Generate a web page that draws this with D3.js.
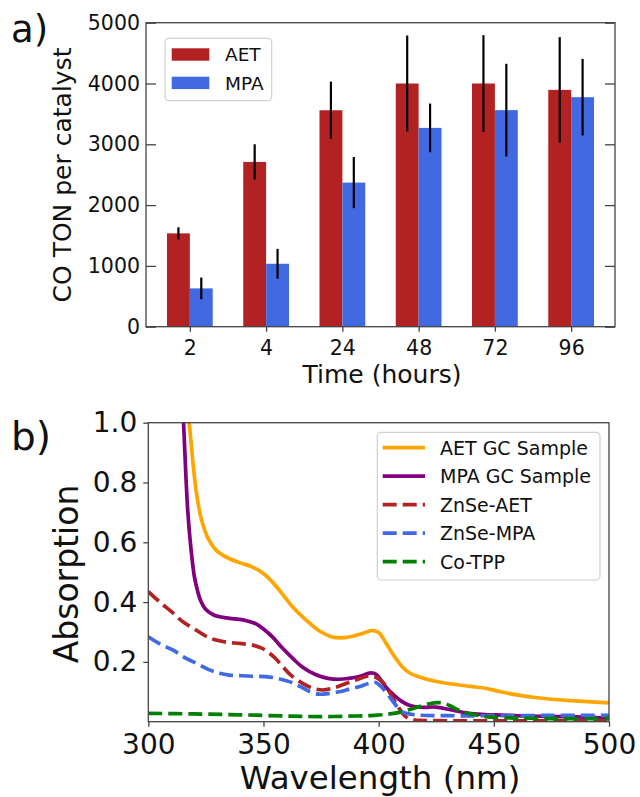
<!DOCTYPE html>
<html><head><meta charset="utf-8">
<script src="https://cdn.jsdelivr.net/npm/d3@7"></script>
<style>
body{margin:0;background:#fff}
svg{display:block;background:#fff}
text{font-family:"DejaVu Sans",sans-serif;fill:#111}
</style>
</head><body>
<svg id="c" width="640" height="797"></svg>
<script>
// ---------- Panel a data ----------
const timeLabels = ["2", "4", "24", "48", "72", "96"];
const aetTON = [1535, 2710, 3560, 4000, 4000, 3895];
const aetErr = [100, 290, 470, 790, 795, 868];
const mpaTON = [630, 1035, 2370, 3270, 3562, 3775];
const mpaErr = [178, 245, 420, 400, 762, 630];
const tonTicks = [0, 1000, 2000, 3000, 4000, 5000];
const barSeries = ["AET", "MPA"];

// ---------- Panel b data ----------
const aetGC_wl  = [310, 313, 315, 317.7, 319.4, 321, 323.1, 326, 329.4, 334, 339.6, 345, 349.7, 354, 358.4, 363, 368.5, 374, 380, 385, 388.7, 393, 397, 400, 403, 406.5, 410.2, 413.5, 417.4, 424, 431.8, 440, 446.3, 453, 460.7, 468, 475, 487, 500];
const aetGC_abs = [1.6, 1.3, 1.13, 1.0, 0.864, 0.76, 0.675, 0.612, 0.574, 0.55, 0.532, 0.518, 0.497, 0.466, 0.425, 0.381, 0.34, 0.305, 0.283, 0.281, 0.286, 0.295, 0.305, 0.298, 0.265, 0.222, 0.184, 0.163, 0.15, 0.136, 0.126, 0.118, 0.112, 0.1, 0.089, 0.081, 0.075, 0.069, 0.063];

const mpaGC_wl  = [311, 313.5, 315.3, 317.1, 318.5, 320, 321.3, 322.6, 325, 328.4, 334, 339.6, 343, 346.8, 350, 354, 358, 362.7, 367, 372.8, 378, 382.9, 387, 391.5, 396.6, 399, 403, 406.5, 410.2, 413, 416, 420, 424.6, 428, 431.8, 439, 446, 453.4, 465, 482, 500];
const mpaGC_abs = [1.7, 1.3, 1.0, 0.708, 0.58, 0.485, 0.44, 0.407, 0.375, 0.357, 0.347, 0.342, 0.337, 0.327, 0.31, 0.283, 0.248, 0.212, 0.182, 0.157, 0.145, 0.142, 0.145, 0.151, 0.163, 0.158, 0.117, 0.09, 0.067, 0.056, 0.05, 0.048, 0.049, 0.045, 0.039, 0.028, 0.024, 0.022, 0.019, 0.017, 0.012];

const znseAET_wl  = [300, 305, 310.8, 315, 320.9, 325, 329.4, 335, 339.6, 345.3, 349, 351.1, 355, 358.4, 362, 367, 371, 375.7, 380, 385.8, 391, 395.9, 399, 402, 405, 408, 411.7, 415, 420, 450, 500];
const znseAET_abs = [0.435, 0.4, 0.363, 0.334, 0.306, 0.286, 0.273, 0.265, 0.262, 0.256, 0.247, 0.238, 0.213, 0.184, 0.155, 0.128, 0.113, 0.106, 0.112, 0.128, 0.142, 0.153, 0.148, 0.13, 0.095, 0.055, 0.017, 0.006, 0.004, 0.003, 0.003];

const znseMPA_wl  = [300, 305, 310.8, 315, 320.9, 326, 331, 335, 339.6, 345, 351.1, 356, 361.2, 366, 370, 374.2, 378, 382.9, 387, 391.5, 395.8, 398.7, 401, 403.7, 407, 410.2, 414, 417.4, 430, 450, 475, 500];
const znseMPA_abs = [0.284, 0.26, 0.239, 0.218, 0.195, 0.175, 0.162, 0.156, 0.154, 0.152, 0.151, 0.145, 0.134, 0.117, 0.101, 0.092, 0.094, 0.1, 0.108, 0.117, 0.128, 0.131, 0.118, 0.094, 0.06, 0.033, 0.025, 0.022, 0.02, 0.02, 0.021, 0.021];

const coTPP_wl  = [300, 320, 340, 360, 375, 390, 398, 405, 410.2, 414, 417.4, 422, 426, 429, 431.8, 435, 439, 446.3, 453, 460.7, 480, 500];
const coTPP_abs = [0.028, 0.026, 0.023, 0.019, 0.017, 0.019, 0.021, 0.026, 0.033, 0.042, 0.05, 0.06, 0.064, 0.06, 0.05, 0.038, 0.028, 0.017, 0.014, 0.012, 0.01, 0.01];

const seriesNames  = ["AET GC Sample", "MPA GC Sample", "ZnSe-AET", "ZnSe-MPA", "Co-TPP"];
const wlTicks  = [300, 350, 400, 450, 500];
const absTicks = [0.2, 0.4, 0.6, 0.8, 1.0];

// ---------- styles ----------
const barColors = {AET: "#B22222", MPA: "#4169E1"};
const lineStyles = [
  {color: "#FFA500", dash: null},
  {color: "#800080", dash: null},
  {color: "#B22222", dash: "14,6"},
  {color: "#4169E1", dash: "14,6"},
  {color: "#008000", dash: "14,6"}
];
const spineColor = "#444";

const svg = d3.select("#c");
svg.append("rect").attr("width", 640).attr("height", 797).attr("fill", "#fff");

// ================= Panel a =================
const A = {l: 146, r: 615, t: 22.7, b: 326.7};
const xA = d3.scaleLinear().domain([-0.575, 5.575]).range([A.l, A.r]);
const yA = d3.scaleLinear().domain([0, 5000]).range([A.b, A.t]);
const bw = 0.3;

const gA = svg.append("g");
const groups = [
  {name: "AET", vals: aetTON, errs: aetErr, off: -bw / 2},
  {name: "MPA", vals: mpaTON, errs: mpaErr, off: bw / 2}
];
groups.forEach(s => {
  gA.selectAll(null).data(s.vals).enter().append("rect")
    .attr("x", (d, i) => xA(i + s.off - bw / 2))
    .attr("width", (d, i) => xA(i + s.off + bw / 2) - xA(i + s.off - bw / 2))
    .attr("y", d => yA(d))
    .attr("height", d => yA(0) - yA(d))
    .attr("fill", barColors[s.name]);
});
groups.forEach(s => {
  gA.selectAll(null).data(s.vals).enter().append("line")
    .attr("x1", (d, i) => xA(i + s.off)).attr("x2", (d, i) => xA(i + s.off))
    .attr("y1", (d, i) => yA(d + s.errs[i])).attr("y2", (d, i) => yA(d - s.errs[i]))
    .attr("stroke", "#000").attr("stroke-width", 2.2);
});

// axes a
const axA_b = gA.append("g").attr("transform", `translate(0,${A.b})`)
  .call(d3.axisBottom(xA).tickValues(d3.range(timeLabels.length)).tickFormat(i => timeLabels[i]).tickSize(5).tickSizeOuter(0).tickPadding(9));
const axA_l = gA.append("g").attr("transform", `translate(${A.l},0)`)
  .call(d3.axisLeft(yA).tickValues(tonTicks).tickFormat(d3.format("d")).tickSize(-10).tickSizeOuter(0).tickPadding(6));
const axA_r = gA.append("g").attr("transform", `translate(${A.r},0)`)
  .call(d3.axisRight(yA).tickValues(tonTicks).tickFormat("").tickSize(-10).tickSizeOuter(0));
[axA_b, axA_l, axA_r].forEach(ax => {
  ax.select(".domain").remove();
  ax.selectAll(".tick line").attr("stroke", spineColor).attr("stroke-width", 1.3);
  ax.selectAll("text").attr("font-size", 20.5).attr("fill", "#111").attr("font-family", "DejaVu Sans");
});
gA.append("rect").attr("x", A.l).attr("y", A.t).attr("width", A.r - A.l).attr("height", A.b - A.t)
  .attr("fill", "none").attr("stroke", spineColor).attr("stroke-width", 1.3);

gA.append("text").attr("x", 382).attr("y", 383).attr("text-anchor", "middle").attr("font-size", 25).text("Time (hours)");
gA.append("text").attr("transform", `translate(71,175) rotate(-90)`).attr("text-anchor", "middle").attr("font-size", 25).text("CO TON per catalyst");
gA.append("text").attr("x", 11).attr("y", 41.7).attr("font-size", 37).text("a)");

// legend a
const legA = gA.append("g");
legA.append("rect").attr("x", 165).attr("y", 38.3).attr("width", 106.7).attr("height", 62.4).attr("rx", 4)
  .attr("fill", "#fff").attr("fill-opacity", 0.85).attr("stroke", "#d0d0d0").attr("stroke-width", 1.2);
barSeries.forEach((n, i) => {
  const cy = 54.5 + i * 28.4;
  legA.append("rect").attr("x", 171.7).attr("y", cy - 6.2).attr("width", 37.6).attr("height", 12.4).attr("fill", barColors[n]);
  legA.append("text").attr("x", 225).attr("y", cy + 6.8).attr("font-size", 18.5).text(n);
});

// ================= Panel b =================
const B = {l: 148.3, r: 609, t: 422.7, b: 721.7};
const xB = d3.scaleLinear().domain([300, 500]).range([B.l, B.r]);
const yB = d3.scaleLinear().domain([0, 1]).range([B.b, B.t]);
const gB = svg.append("g");
gB.append("clipPath").attr("id", "clipB").append("rect")
  .attr("x", B.l).attr("y", B.t).attr("width", B.r - B.l).attr("height", B.b - B.t);

const lineData = [
  [aetGC_wl, aetGC_abs], [mpaGC_wl, mpaGC_abs], [znseAET_wl, znseAET_abs], [znseMPA_wl, znseMPA_abs], [coTPP_wl, coTPP_abs]
];
const lineGen = d3.line().x(d => xB(d[0])).y(d => yB(d[1])).curve(d3.curveCatmullRom.alpha(0.5));
const plotB = gB.append("g").attr("clip-path", "url(#clipB)");
lineData.forEach(([wl, ab], k) => {
  const pts = wl.map((w, i) => [w, ab[i]]);
  const p = plotB.append("path").datum(pts).attr("d", lineGen)
    .attr("fill", "none").attr("stroke", lineStyles[k].color).attr("stroke-width", 3.7)
    .attr("stroke-linejoin", "round");
  if (lineStyles[k].dash) p.attr("stroke-dasharray", lineStyles[k].dash);
});

const axB_b = gB.append("g").attr("transform", `translate(0,${B.b})`)
  .call(d3.axisBottom(xB).tickValues(wlTicks).tickFormat(d3.format("d")).tickSize(5).tickSizeOuter(0).tickPadding(7));
const axB_l = gB.append("g").attr("transform", `translate(${B.l},0)`)
  .call(d3.axisLeft(yB).tickValues(absTicks).tickFormat(d3.format(".1f")).tickSize(5).tickSizeOuter(0).tickPadding(6));
[axB_b, axB_l].forEach(ax => {
  ax.select(".domain").remove();
  ax.selectAll(".tick line").attr("stroke", spineColor).attr("stroke-width", 1.3);
  ax.selectAll("text").attr("font-size", 28).attr("fill", "#111").attr("font-family", "DejaVu Sans");
});
gB.append("rect").attr("x", B.l).attr("y", B.t).attr("width", B.r - B.l).attr("height", B.b - B.t)
  .attr("fill", "none").attr("stroke", spineColor).attr("stroke-width", 1.3);

gB.append("text").attr("x", 380).attr("y", 789).attr("text-anchor", "middle").attr("font-size", 32.5).text("Wavelength (nm)");
gB.append("text").attr("transform", `translate(78,574) rotate(-90)`).attr("text-anchor", "middle").attr("font-size", 33).text("Absorption");
gB.append("text").attr("x", 11).attr("y", 450).attr("font-size", 39).text("b)");

// legend b
const legB = gB.append("g");
legB.append("rect").attr("x", 377.3).attr("y", 432.3).attr("width", 222.7).attr("height", 147.7).attr("rx", 4)
  .attr("fill", "#fff").attr("fill-opacity", 0.85).attr("stroke", "#d0d0d0").attr("stroke-width", 1.2);
seriesNames.forEach((n, k) => {
  const cy = 447.7 + k * 28.5;
  const l = legB.append("line").attr("x1", 382.7).attr("x2", 425).attr("y1", cy).attr("y2", cy)
    .attr("stroke", lineStyles[k].color).attr("stroke-width", 3.7);
  if (lineStyles[k].dash) l.attr("stroke-dasharray", lineStyles[k].dash);
  legB.append("text").attr("x", 440).attr("y", cy + 6.8).attr("font-size", 19).text(n);
});
</script>
</body></html>
